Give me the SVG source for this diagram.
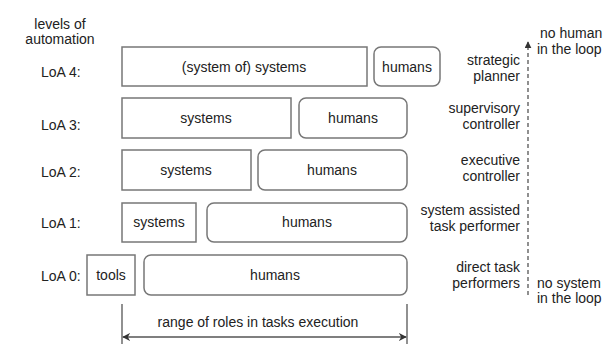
<svg xmlns="http://www.w3.org/2000/svg" width="603" height="344" viewBox="0 0 603 344">
<style>
text{font-family:"Liberation Sans",Arial,sans-serif;font-size:14px;fill:#222}
.m{text-anchor:middle}
.e{text-anchor:end}
.b{fill:#fff;stroke:#777;stroke-width:1.5}
.ln{stroke:#555;stroke-width:1.3;fill:none}
</style>
<defs>
<marker id="ah" viewBox="0 0 10 10" refX="9" refY="5" markerWidth="8" markerHeight="8" orient="auto-start-reverse" markerUnits="userSpaceOnUse">
<path d="M0,0 L10,5 L0,10 L3,5 Z" fill="#333"/>
</marker>
<marker id="up" viewBox="0 0 10 10" refX="9" refY="5" markerWidth="7" markerHeight="7" orient="auto" markerUnits="userSpaceOnUse">
<path d="M0,0 L10,5 L0,10 Z" fill="#333"/>
</marker>
</defs>
<rect width="603" height="344" fill="#fff"/>
<g id="header">
<text class="m" x="60" y="29">levels of</text>
<text class="m" x="60" y="44">automation</text>
</g>
<g id="loa4">
<text x="41" y="77">LoA 4:</text>
<rect class="b" x="122" y="47" width="245" height="39"/>
<text class="m" x="244" y="72">(system of) systems</text>
<rect class="b" x="374" y="47" width="66" height="39" rx="7"/>
<text class="m" x="407" y="72">humans</text>
<text class="e" x="520" y="65">strategic</text>
<text class="e" x="520" y="81">planner</text>
</g>
<g id="loa3">
<text x="41" y="130">LoA 3:</text>
<rect class="b" x="122" y="98" width="169" height="40"/>
<text class="m" x="206" y="123">systems</text>
<rect class="b" x="299" y="98" width="108" height="40" rx="7"/>
<text class="m" x="353" y="123">humans</text>
<text class="e" x="520" y="113">supervisory</text>
<text class="e" x="520" y="129">controller</text>
</g>
<g id="loa2">
<text x="41" y="177">LoA 2:</text>
<rect class="b" x="122" y="150" width="129" height="40"/>
<text class="m" x="186" y="175">systems</text>
<rect class="b" x="258" y="150" width="149" height="40" rx="7"/>
<text class="m" x="332" y="175">humans</text>
<text class="e" x="520" y="165">executive</text>
<text class="e" x="520" y="181">controller</text>
</g>
<g id="loa1">
<text x="41" y="228">LoA 1:</text>
<rect class="b" x="122" y="203" width="74" height="39"/>
<text class="m" x="159" y="227">systems</text>
<rect class="b" x="207" y="203" width="200" height="39" rx="7"/>
<text class="m" x="307" y="227">humans</text>
<text class="e" x="520" y="215">system assisted</text>
<text class="e" x="520" y="231">task performer</text>
</g>
<g id="loa0">
<text x="41" y="281">LoA 0:</text>
<rect class="b" x="87" y="255" width="48" height="40"/>
<text class="m" x="111" y="280">tools</text>
<rect class="b" x="144" y="255" width="263" height="40" rx="7"/>
<text class="m" x="275" y="280">humans</text>
<text class="e" x="520" y="272">direct task</text>
<text class="e" x="520" y="288">performers</text>
</g>
<g id="axis-labels">
<text x="540" y="38">no human</text>
<text x="537" y="54">in the loop</text>
<text x="537" y="288">no system</text>
<text x="537" y="303">in the loop</text>
<text class="m" x="258" y="327">range of roles in tasks execution</text>
</g>
<g id="connectors">
<line class="ln" x1="528" y1="295" x2="528" y2="42" stroke-dasharray="4,3" marker-end="url(#up)"/>
<line class="ln" x1="122" y1="304" x2="122" y2="344"/>
<line class="ln" x1="407" y1="304" x2="407" y2="344"/>
<line class="ln" x1="123" y1="337" x2="406" y2="337" marker-start="url(#ah)" marker-end="url(#ah)"/>
</g>
</svg>
